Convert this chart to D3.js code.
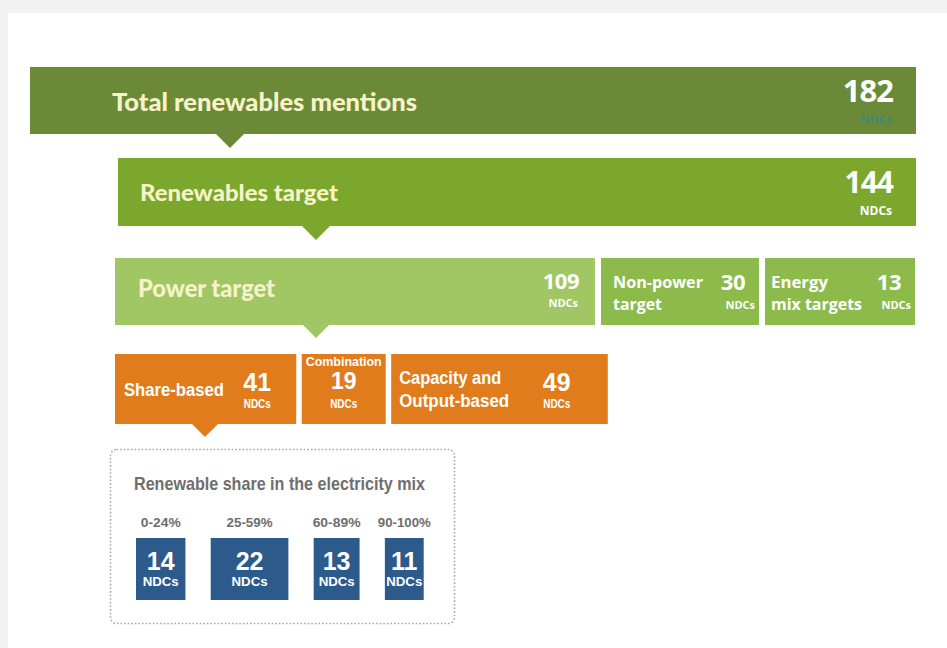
<!DOCTYPE html>
<html>
<head>
<meta charset="utf-8">
<script src="https://cdn.jsdelivr.net/npm/d3@7"></script>
<style>
  html, body { margin: 0; padding: 0; background: #f2f2f2; }
  svg { display: block; }
  .head { font-family: Lato, "Open Sans", sans-serif; font-weight: 900; }
  .num { font-family: "Open Sans", Lato, sans-serif; font-weight: 700; }
  .narrow { font-family: "Liberation Sans", Arial, sans-serif; font-weight: 700; }
</style>
</head>
<body>
<script>
// ---------- data ----------
const levelLabels = ["Total renewables mentions", "Renewables target"];
const levelValues = [182, 144];

const targetCategories = ["Power target", "Non-power target", "Energy mix targets"];
const targetValues = [109, 30, 13];

const powerCategories = ["Share-based", "Combination", "Capacity and Output-based"];
const powerValues = [41, 19, 49];

const shareBands = ["0-24%", "25-59%", "60-89%", "90-100%"];
const shareValues = [14, 22, 13, 11];

const unitLabel = "NDCs";
const shareTitle = "Renewable share in the electricity mix";

// ---------- layout ----------
const W = 947, H = 648;
const svg = d3.select("body").append("svg").attr("width", W).attr("height", H);

svg.append("rect").attr("x", 0).attr("y", 0).attr("width", W).attr("height", H).attr("fill", "#f2f2f2");
svg.append("rect").attr("x", 8).attr("y", 13).attr("width", W - 8).attr("height", H - 13).attr("fill", "#ffffff");

const cream = "#f7f3c9";

function pointer(x, yTop, half, depth, color) {
  svg.append("path")
    .attr("d", d3.line()([[x - half, yTop], [x + half, yTop], [x, yTop + depth]]) + "Z")
    .attr("fill", color);
}
function fitText(sel, len) {
  return sel.attr("textLength", len).attr("lengthAdjust", "spacingAndGlyphs");
}

// Level bars (total / target)
const levelLayout = [
  { x0: 30, x1: 916, y: 67, h: 67, color: "#6b8a37", labelX: 112, labelY: 111, fs: 24, len: 305, ptr: 230, ndcColor: "#3f8a7c", numFs: 31 },
  { x0: 118, x1: 916, y: 158, h: 68, color: "#7aa72c", labelX: 140, labelY: 201, fs: 23, len: 198, ptr: 316, ndcColor: "#ffffff", numFs: 30 }
];
levelLabels.forEach((lab, i) => {
  const L = levelLayout[i];
  svg.append("rect").attr("x", L.x0).attr("y", L.y).attr("width", L.x1 - L.x0).attr("height", L.h).attr("fill", L.color);
  pointer(L.ptr, L.y + L.h, 14, 14, L.color);
  fitText(svg.append("text").attr("class", "head").attr("x", L.labelX).attr("y", L.labelY)
    .attr("font-size", L.fs).attr("fill", cream).text(lab), L.len);
  svg.append("text").attr("class", "num").attr("x", L.x1 - 23).attr("y", L.y + 35)
    .attr("text-anchor", "end").attr("font-size", L.numFs).attr("fill", "#ffffff").attr("letter-spacing", -1).text(levelValues[i]);
  svg.append("text").attr("class", "num").attr("x", L.x1 - 24).attr("y", L.y + 57)
    .attr("text-anchor", "end").attr("font-size", 12).attr("fill", L.ndcColor).text(unitLabel);
});

// Target row
const targetLayout = [
  { x0: 115, x1: 595, color: "#a1c765" },
  { x0: 601, x1: 759, color: "#8cbb4b" },
  { x0: 765, x1: 915, color: "#8cbb4b" }
];
const tY = 258, tH = 67;
targetCategories.forEach((c, i) => {
  const L = targetLayout[i];
  svg.append("rect").attr("x", L.x0).attr("y", tY).attr("width", L.x1 - L.x0).attr("height", tH).attr("fill", L.color);
});
pointer(316, tY + tH, 13, 13, "#a1c765");
// Power target labels
fitText(svg.append("text").attr("class", "head").attr("x", 138).attr("y", 297).attr("font-size", 24)
  .attr("fill", cream).text(targetCategories[0]), 137);
svg.append("text").attr("class", "num").attr("x", 579).attr("y", 289).attr("text-anchor", "end")
  .attr("font-size", 22).attr("fill", "#ffffff").attr("letter-spacing", -0.5).text(targetValues[0]);
svg.append("text").attr("class", "num").attr("x", 578).attr("y", 307).attr("text-anchor", "end")
  .attr("font-size", 11).attr("fill", "#ffffff").text(unitLabel);
// Non-power / energy mix
const smallLines = [["Non-power", "target"], ["Energy", "mix targets"]];
[1, 2].forEach((i, k) => {
  const L = targetLayout[i];
  const lines = smallLines[k];
  const tx = L.x0 + (k === 0 ? 12 : 6);
  fitText(svg.append("text").attr("class", "num").attr("x", tx).attr("y", 288)
    .attr("font-size", 15.5).attr("fill", "#ffffff").text(lines[0]), k === 0 ? 90 : 57);
  fitText(svg.append("text").attr("class", "num").attr("x", tx).attr("y", 310)
    .attr("font-size", 15.5).attr("fill", "#ffffff").text(lines[1]), k === 0 ? 49 : 91);
  svg.append("text").attr("class", "num").attr("x", L.x1 - 14).attr("y", 290)
    .attr("text-anchor", "end").attr("font-size", 22).attr("fill", "#ffffff").attr("letter-spacing", -0.5).text(targetValues[i]);
  svg.append("text").attr("class", "num").attr("x", L.x1 - 4).attr("y", 309)
    .attr("text-anchor", "end").attr("font-size", 11).attr("fill", "#ffffff").text(unitLabel);
});

// Power split row (width proportional to value)
const oGap = 5.5, oY = 354, oH = 70;
const xPow = d3.scaleLinear().domain([0, d3.sum(powerValues)]).range([115, 115 + 4.42 * d3.sum(powerValues)]);
let cum = 0;
const powerBoxes = powerValues.map((v, i) => {
  const x0 = xPow(cum) + i * oGap;
  const x1 = xPow(cum + v) + i * oGap;
  cum += v;
  return { x0, x1, v, name: powerCategories[i] };
});
const orange = "#e07c1c";
powerBoxes.forEach(b => {
  svg.append("rect").attr("x", b.x0).attr("y", oY).attr("width", b.x1 - b.x0).attr("height", oH).attr("fill", orange);
});
pointer(205, oY + oH, 13, 13, orange);
function ndcSmall(x, y) {
  fitText(svg.append("text").attr("class", "narrow").attr("x", x).attr("y", y).attr("text-anchor", "middle")
    .attr("font-size", 12).attr("fill", "#ffffff").text(unitLabel), 27);
}
// Share-based
{
  const b = powerBoxes[0];
  fitText(svg.append("text").attr("class", "narrow").attr("x", b.x0 + 9).attr("y", 396).attr("font-size", 18.5)
    .attr("fill", "#ffffff").text(b.name), 100);
  svg.append("text").attr("class", "narrow").attr("x", b.x1 - 39).attr("y", 391).attr("text-anchor", "middle")
    .attr("font-size", 25).attr("fill", "#ffffff").text(b.v);
  ndcSmall(b.x1 - 39, 408);
}
// Combination
{
  const b = powerBoxes[1];
  const cx = (b.x0 + b.x1) / 2;
  fitText(svg.append("text").attr("class", "narrow").attr("x", cx).attr("y", 366).attr("text-anchor", "middle")
    .attr("font-size", 12).attr("fill", "#ffffff").text(b.name), 76);
  svg.append("text").attr("class", "narrow").attr("x", cx).attr("y", 389).attr("text-anchor", "middle")
    .attr("font-size", 23).attr("fill", "#ffffff").text(b.v);
  ndcSmall(cx, 408);
}
// Capacity and Output-based
{
  const b = powerBoxes[2];
  fitText(svg.append("text").attr("class", "narrow").attr("x", b.x0 + 8).attr("y", 384).attr("font-size", 18.5)
    .attr("fill", "#ffffff").text("Capacity and"), 102);
  fitText(svg.append("text").attr("class", "narrow").attr("x", b.x0 + 8).attr("y", 407).attr("font-size", 18.5)
    .attr("fill", "#ffffff").text("Output-based"), 110);
  svg.append("text").attr("class", "narrow").attr("x", b.x1 - 51).attr("y", 391).attr("text-anchor", "middle")
    .attr("font-size", 25).attr("fill", "#ffffff").text(b.v);
  ndcSmall(b.x1 - 51, 408);
}

// Dotted box
svg.append("rect").attr("x", 110.5).attr("y", 449.5).attr("width", 344).attr("height", 174).attr("rx", 6)
  .attr("fill", "#ffffff").attr("stroke", "#a9a9a9").attr("stroke-width", 1.6).attr("stroke-dasharray", "1.6,2");
fitText(svg.append("text").attr("class", "narrow").attr("x", 134).attr("y", 490).attr("font-size", 19)
  .attr("fill", "#6e6e6e").text(shareTitle), 291);

// Share bands (width proportional to value)
const bGap = 25.3, bY = 538, bH = 62;
const xShare = d3.scaleLinear().domain([0, d3.sum(shareValues)]).range([136, 136 + 3.53 * d3.sum(shareValues)]);
const bandLen = [40, 46, 48, 53];
let cum2 = 0;
const blue = "#2c5a8a";
shareValues.forEach((v, i) => {
  const x0 = xShare(cum2) + i * bGap;
  const x1 = xShare(cum2 + v) + i * bGap;
  cum2 += v;
  const cx = (x0 + x1) / 2;
  svg.append("rect").attr("x", x0).attr("y", bY).attr("width", x1 - x0).attr("height", bH).attr("fill", blue);
  fitText(svg.append("text").attr("class", "narrow").attr("x", cx).attr("y", 527).attr("text-anchor", "middle")
    .attr("font-size", 13.5).attr("fill", "#6e6e6e").text(shareBands[i]), bandLen[i]);
  svg.append("text").attr("class", "narrow").attr("x", cx).attr("y", 570).attr("text-anchor", "middle")
    .attr("font-size", 25).attr("fill", "#ffffff").text(v);
  fitText(svg.append("text").attr("class", "narrow").attr("x", cx).attr("y", 586).attr("text-anchor", "middle")
    .attr("font-size", 13.5).attr("fill", "#ffffff").text(unitLabel), 36);
});
</script>
</body>
</html>
